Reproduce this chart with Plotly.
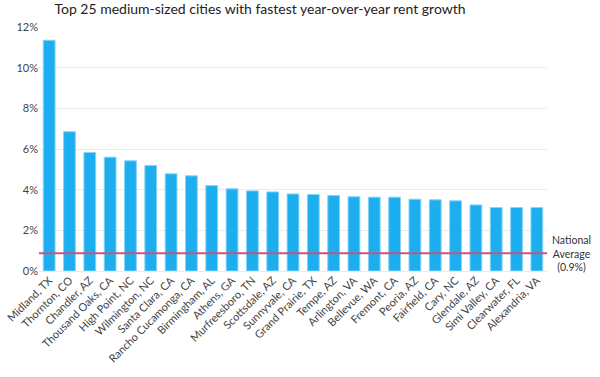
import plotly.graph_objects as go

cities = ["Midland, TX", "Thornton, CO", "Chandler, AZ", "Thousand Oaks, CA", "High Point, NC",
          "Wilmington, NC", "Santa Clara, CA", "Rancho Cucamonga, CA", "Birmingham, AL", "Athens, GA",
          "Murfreesboro, TN", "Scottsdale, AZ", "Sunnyvale, CA", "Grand Prairie, TX", "Tempe, AZ",
          "Arlington, VA", "Bellevue, WA", "Fremont, CA", "Peoria, AZ", "Fairfield, CA",
          "Cary, NC", "Glendale, AZ", "Simi Valley, CA", "Clearwater, FL", "Alexandria, VA"]
growth = [11.35, 6.85, 5.83, 5.6, 5.42, 5.19, 4.78, 4.68, 4.2, 4.04,
          3.94, 3.89, 3.79, 3.76, 3.71, 3.65, 3.63, 3.63, 3.53, 3.5,
          3.45, 3.25, 3.12, 3.12, 3.12]
national_avg = 0.87
y_ticks = [0, 2, 4, 6, 8, 10, 12]
y_tick_labels = ["0%", "2%", "4%", "6%", "8%", "10%", "12%"]

FONT = "Lato"

fig = go.Figure()
fig.add_trace(go.Bar(
    x=cities, y=growth,
    marker=dict(color="#1daef0", line=dict(color="#86d3f8", width=1)),
    hoverinfo="x+y",
))

fig.add_shape(type="line", xref="paper", yref="y", x0=0, x1=1,
              y0=national_avg, y1=national_avg,
              line=dict(color="#c5577a", width=2))

fig.add_annotation(xref="paper", yref="y", x=1.049, y=national_avg, xanchor="center",
                   yanchor="middle", showarrow=False, align="center",
                   text="National<br>Average<br>(0.9%)",
                   font=dict(family=FONT, size=10.5, color="#333"))

fig.update_layout(
    width=600, height=377,
    margin=dict(l=39, r=53, t=27, b=106, autoexpand=False),
    paper_bgcolor="white", plot_bgcolor="white",
    bargap=0.42,
    showlegend=False,
    title=dict(text="Top 25 medium-sized cities with fastest year-over-year rent growth",
               x=260 / 600, xanchor="center", y=0.988, yanchor="top",
               font=dict(family=FONT, size=14, color="#222")),
    font=dict(family=FONT, size=11, color="#444"),
)
fig.update_xaxes(tickangle=-45, showgrid=False, showline=False, ticks="", automargin=False,
                 tickfont=dict(family=FONT, size=11, color="#444"))
fig.update_yaxes(range=[0, 12], tickvals=y_ticks, ticktext=y_tick_labels, automargin=False,
                 showgrid=True, gridcolor="#ebebeb", gridwidth=1,
                 zeroline=True, zerolinecolor="#ebebeb", zerolinewidth=1,
                 showline=False, ticks="",
                 tickfont=dict(family=FONT, size=11, color="#444"))

fig.write_html("out.html", config={"displayModeBar": False},
               post_script="document.body.style.margin='0';document.body.style.overflow='hidden';")
